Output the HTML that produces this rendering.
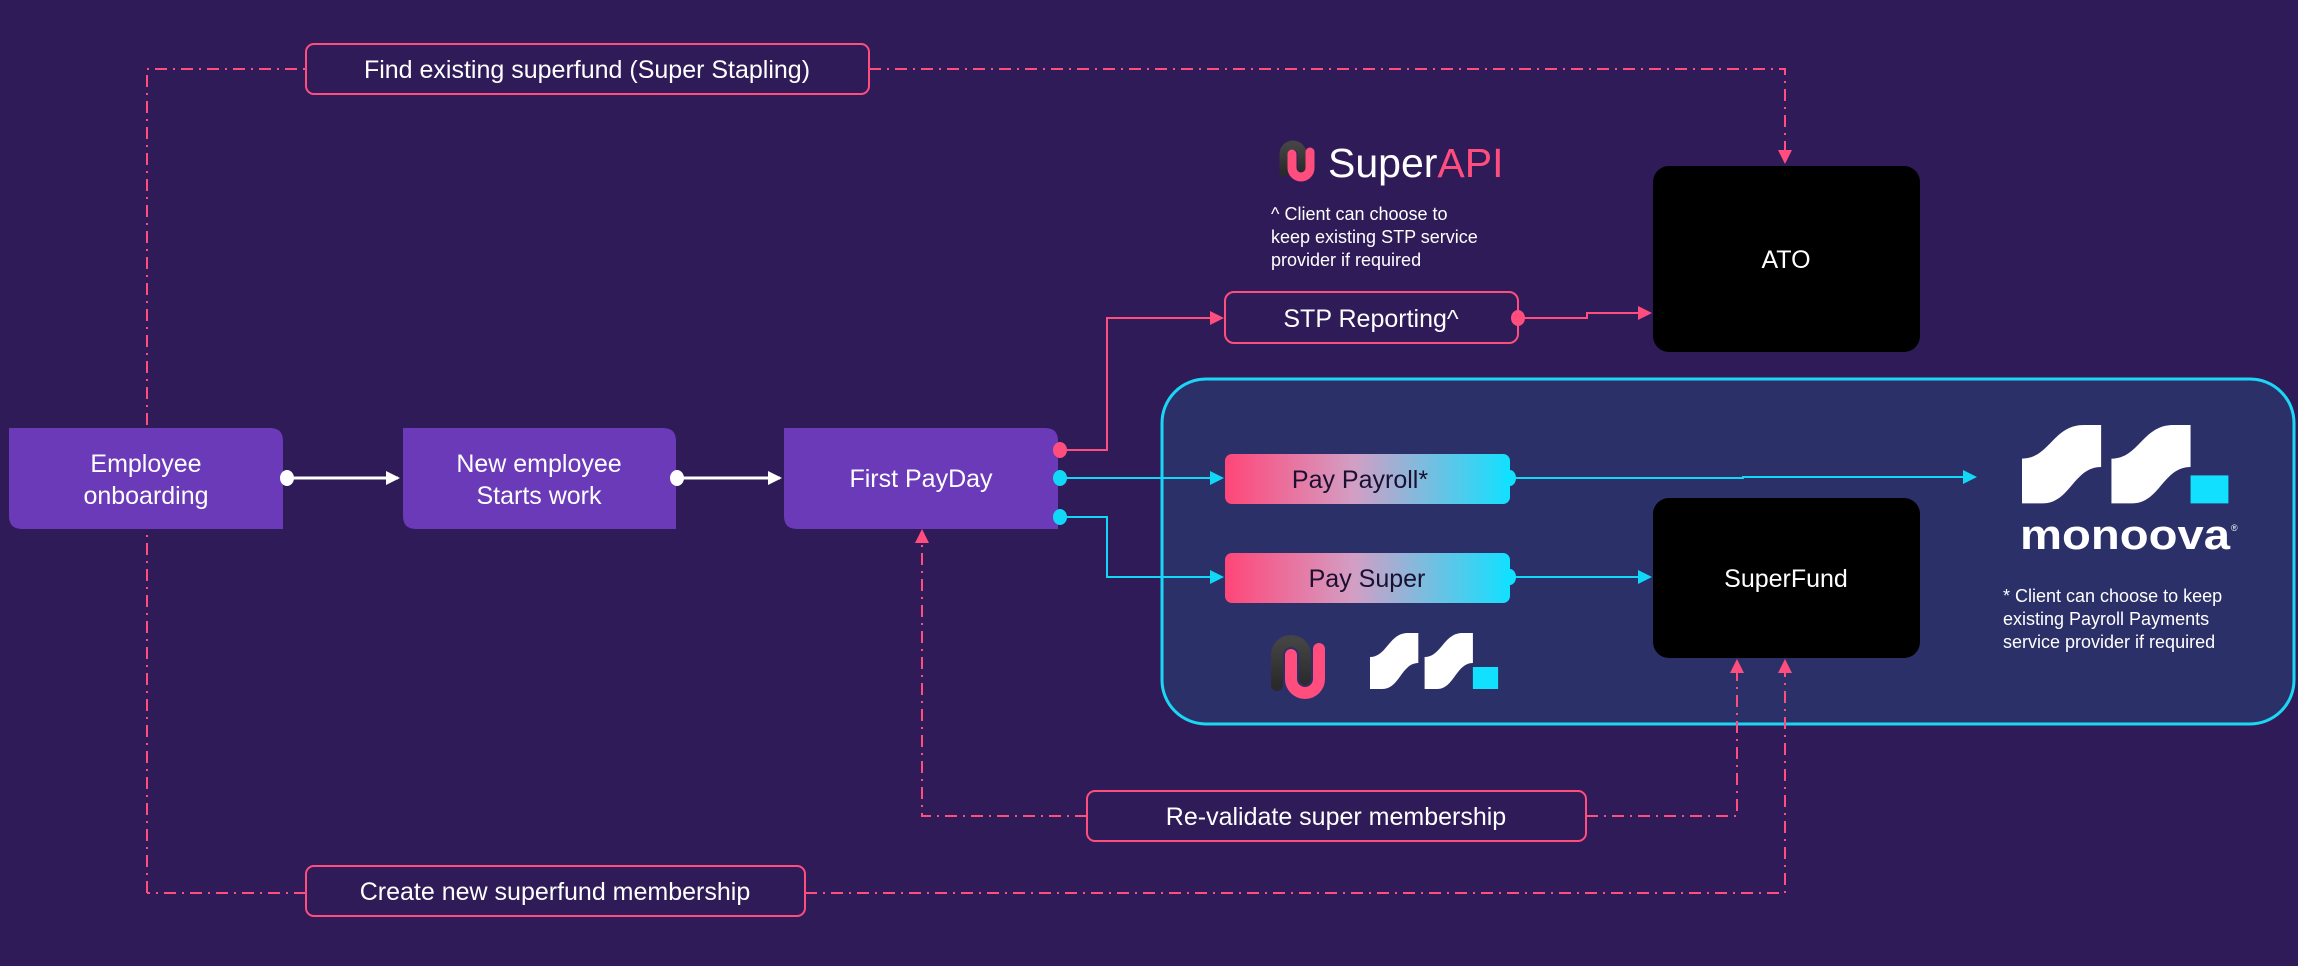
<!DOCTYPE html>
<html><head><meta charset="utf-8"><style>
html,body{margin:0;padding:0;background:#2f1b58;}
svg{display:block}
text{font-family:"Liberation Sans",sans-serif;}
</style></head><body>
<svg width="2298" height="966" viewBox="0 0 2298 966" xmlns="http://www.w3.org/2000/svg">
<defs>
<linearGradient id="g" x1="0" x2="1" y1="0" y2="0"><stop offset="0" stop-color="#ff4678"/><stop offset="0.45" stop-color="#d39ec4"/><stop offset="1" stop-color="#12e0ff"/></linearGradient>
<linearGradient id="dk" x1="0" x2="0" y1="0" y2="1"><stop offset="0" stop-color="#444"/><stop offset="1" stop-color="#2a2a2a"/></linearGradient>
<marker id="ap" markerWidth="14" markerHeight="14" refX="12" refY="7" orient="auto" markerUnits="userSpaceOnUse"><path d="M0,0 L14,7 L0,14 Z" fill="#ff4d7d"/></marker>
<marker id="ac" markerWidth="14" markerHeight="14" refX="12" refY="7" orient="auto" markerUnits="userSpaceOnUse"><path d="M0,0 L14,7 L0,14 Z" fill="#12d8f7"/></marker>
<marker id="aw" markerWidth="14" markerHeight="14" refX="12" refY="7" orient="auto" markerUnits="userSpaceOnUse"><path d="M0,0 L14,7 L0,14 Z" fill="#fff"/></marker>
</defs>
<rect width="2298" height="966" fill="#2f1b58"/>

<!-- blue container -->
<rect x="1162" y="379" width="1132" height="345" rx="44" fill="#2c3068" stroke="#1ad8f5" stroke-width="3"/>

<!-- dash-dot lines -->
<g fill="none" stroke="#ff4d7d" stroke-width="2" stroke-dasharray="12 6 2 6">
<path d="M147,893 L147,69 L306,69"/>
<path d="M869,69 L1785,69 L1785,162" marker-end="url(#ap)"/>
<path d="M306,893 L147,893"/>
<path d="M805,893 L1785,893 L1785,661" marker-end="url(#ap)"/>
<path d="M1087,816 L922,816 L922,531" marker-end="url(#ap)"/>
<path d="M1586,816 L1737,816 L1737,661" marker-end="url(#ap)"/>
</g>

<!-- dashed label boxes -->
<g fill="#2f1b58" stroke="#ff4d7d" stroke-width="2">
<rect x="306" y="44" width="563" height="50" rx="8"/>
<rect x="306" y="866" width="499" height="50" rx="8"/>
<rect x="1087" y="791" width="499" height="50" rx="8"/>
</g>
<g fill="#fff" font-size="25" text-anchor="middle">
<text x="587" y="78">Find existing superfund (Super Stapling)</text>
<text x="555" y="900">Create new superfund membership</text>
<text x="1336" y="825">Re-validate super membership</text>
</g>

<!-- purple boxes -->
<g fill="#6a3ab8">
<path d="M9,428 H270 Q283,428 283,441 V529 H22 Q9,529 9,516 Z"/>
<path d="M403,428 H663 Q676,428 676,441 V529 H416 Q403,529 403,516 Z"/>
<path d="M784,428 H1045 Q1058,428 1058,441 V529 H797 Q784,529 784,516 Z"/>
</g>
<g fill="#fff" font-size="25" text-anchor="middle">
<text x="146" y="472">Employee</text><text x="146" y="504">onboarding</text>
<text x="539" y="472">New employee</text><text x="539" y="504">Starts work</text>
<text x="921" y="487">First PayDay</text>
</g>

<!-- white arrows -->
<g stroke="#fff" stroke-width="3" fill="none">
<path d="M286,478 L398,478" marker-end="url(#aw)"/>
<path d="M677,478 L780,478" marker-end="url(#aw)"/>
</g>
<ellipse cx="287" cy="478" rx="7" ry="8" fill="#fff"/>
<ellipse cx="677" cy="478" rx="7" ry="8" fill="#fff"/>

<!-- pink flow to STP -->
<g fill="none" stroke="#ff4d7d" stroke-width="2">
<path d="M1060,450 L1107,450 L1107,318 L1222,318" marker-end="url(#ap)"/>
<path d="M1518,318 L1587,318 L1587,313 L1650,313" marker-end="url(#ap)"/>
</g>
<ellipse cx="1060" cy="450" rx="7" ry="8" fill="#ff4d7d"/>

<!-- cyan flows -->
<g fill="none" stroke="#12d8f7" stroke-width="2">
<path d="M1060,478 L1222,478" marker-end="url(#ac)"/>
<path d="M1060,517 L1107,517 L1107,577 L1222,577" marker-end="url(#ac)"/>
<path d="M1510,478 L1743,478 L1743,477 L1975,477" marker-end="url(#ac)"/>
<path d="M1510,577 L1650,577" marker-end="url(#ac)"/>
</g>
<ellipse cx="1060" cy="478" rx="7" ry="8" fill="#12d8f7"/>
<ellipse cx="1060" cy="517" rx="7" ry="8" fill="#12d8f7"/>

<!-- STP box -->
<rect x="1225" y="292" width="293" height="51" rx="9" fill="#2f1b58" stroke="#ff4d7d" stroke-width="2"/>
<text x="1371" y="327" fill="#fff" font-size="25" text-anchor="middle">STP Reporting^</text>
<ellipse cx="1518" cy="318" rx="7" ry="8" fill="#ff4d7d"/>

<!-- pay boxes -->
<rect x="1225" y="454" width="285" height="50" rx="7" fill="url(#g)"/>
<rect x="1225" y="553" width="285" height="50" rx="7" fill="url(#g)"/>
<ellipse cx="1510" cy="478" rx="6" ry="8" fill="#12e0ff"/>
<ellipse cx="1510" cy="577" rx="6" ry="8" fill="#12e0ff"/>
<g fill="#1a1030" font-size="25" text-anchor="middle">
<text x="1360" y="488">Pay Payroll*</text>
<text x="1367" y="587">Pay Super</text>
</g>

<!-- black boxes -->
<rect x="1653" y="166" width="267" height="186" rx="16" fill="#000"/>
<rect x="1653" y="498" width="267" height="160" rx="16" fill="#000"/>
<g fill="#fff" font-size="25" text-anchor="middle">
<text x="1786" y="268">ATO</text>
<text x="1786" y="587">SuperFund</text>
</g>

<!-- SuperAPI logo -->
<g transform="translate(1275,142)">
<path d="M9,30 V12 A9,9 0 0 1 27,12 V26" fill="none" stroke="url(#dk)" stroke-width="9" stroke-linecap="round"/>
<path d="M17,12 V26 A9,9 0 0 0 35,26 V10" fill="none" stroke="#ff4d7d" stroke-width="9" stroke-linecap="round"/>
</g>
<text x="1328" y="177" font-size="41" fill="#fff">Super<tspan fill="#ff4d7d">API</tspan></text>
<g fill="#fff" font-size="18">
<text x="1271" y="220">^ Client can choose to</text>
<text x="1271" y="243">keep existing STP service</text>
<text x="1271" y="266">provider if required</text>
</g>

<!-- small logos -->
<g transform="translate(1263,635)">
<path d="M14,50 V20 A14,14 0 0 1 42,20 V44" fill="none" stroke="url(#dk)" stroke-width="12" stroke-linecap="round"/>
<path d="M28,20 V44 A14,14 0 0 0 56,44 V14" fill="none" stroke="#ff4d7d" stroke-width="12" stroke-linecap="round"/>
</g>
<g transform="translate(1370,633) scale(1.05,1)">
<path d="M0,24 C16,24 18,0 36,0 H46 V30 C30,30 28,56 12,56 H0 Z" fill="#fff"/>
<path d="M52,24 C68,24 70,0 88,0 H98 V30 C82,30 80,56 64,56 H52 Z" fill="#fff"/>
<rect x="98" y="34" width="24" height="22" fill="#12e0ff"/>
</g>

<!-- monoova big logo -->
<g transform="translate(2022,425) scale(1.72,1.4)">
<path d="M0,24 C16,24 18,0 36,0 H46 V30 C30,30 28,56 12,56 H0 Z" fill="#fff"/>
<path d="M52,24 C68,24 70,0 88,0 H98 V30 C82,30 80,56 64,56 H52 Z" fill="#fff"/>
<rect x="98" y="36" width="22" height="20" fill="#12e0ff"/>
</g>
<text x="2020" y="549" font-size="42" font-weight="bold" fill="#fff" textLength="210" lengthAdjust="spacingAndGlyphs">monoova</text>
<text x="2231" y="531" font-size="9" fill="#fff">®</text>
<g fill="#fff" font-size="18">
<text x="2003" y="602">* Client can choose to keep</text>
<text x="2003" y="625">existing Payroll Payments</text>
<text x="2003" y="648">service provider if required</text>
</g>
</svg>
</body></html>
